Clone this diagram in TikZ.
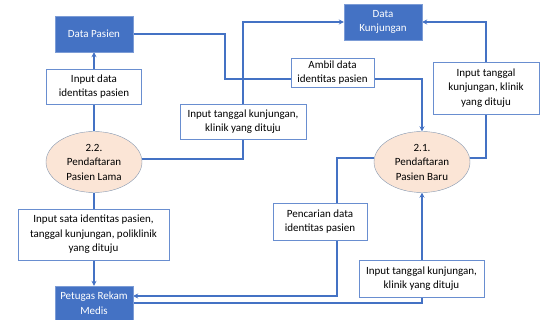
\documentclass[tikz,border=0pt]{standalone}
\usepackage{fontspec}
\setmainfont{Carlito}
\usetikzlibrary{shapes.geometric,arrows.meta,backgrounds}

\definecolor{dfblue}{HTML}{4472C4}
\definecolor{procfill}{HTML}{FBE5D6}
\definecolor{procline}{HTML}{8497B0}

\tikzset{
  store/.style={rectangle, fill=dfblue, draw=dfblue!70, thin, text=white, align=center,
    inner sep=0pt, minimum width=78pt, minimum height=36pt},
  proc/.style={ellipse, fill=procfill, draw=procline, thin, align=center,
    inner sep=0pt, minimum width=96pt, minimum height=61pt},
  flowlbl/.style={rectangle, fill=white, draw=dfblue!80, thin, align=center, inner sep=0pt},
  flow/.style={draw=dfblue, line width=1.3pt, -{Stealth[length=5pt,width=5pt]}}
}

\begin{document}
\begin{tikzpicture}[x=1pt, y=-1pt, font=\fontsize{11}{14.5}\selectfont]
            \useasboundingbox (0,0) rectangle (541,320);
            % stores and processes
            \node[store] (pasien) at (94,34) {Data Pasien};
            \node[store] (kunj) at (383,22) {Data\\Kunjungan};
            \node[store, minimum height=34pt] (petugas) at (94,303) {Petugas Rekam\\Medis};
            \node[proc] (lama) at (94,162) {2.2.\\Pendaftaran\\Pasien Lama};
            \node[proc] (baru) at (422,162) {2.1.\\Pendaftaran\\Pasien Baru};
            % labels
            \node[flowlbl, minimum width=95pt, minimum height=35pt] (inData) at (94,86.5) {Input data\\identitas pasien};
            \node[flowlbl, minimum width=126pt, minimum height=35pt] (inKunjL) at (243,121.5) {Input tanggal kunjungan,\\klinik yang dituju};
            \node[flowlbl, minimum width=83pt, minimum height=29pt] (ambil) at (332.5,72.5) {Ambil data\\identitas pasien};
            \node[flowlbl, minimum width=106pt, minimum height=52pt] (inKunjR) at (486,88) {Input tanggal\\kunjungan, klinik\\yang dituju};
            \node[flowlbl, minimum width=94pt, minimum height=37pt] (cari) at (320,221.5) {Pencarian data\\identitas pasien};
            \node[flowlbl, minimum width=125pt, minimum height=37pt] (inKunjB) at (421.5,278.5) {Input tanggal kunjungan,\\klinik yang dituju};
            \node[flowlbl, minimum width=151pt, minimum height=51pt] (inSata) at (93.5,234.5) {Input sata identitas pasien,\\tanggal kunjungan, poliklinik\\yang dituju};
            % flows
            \begin{scope}[on background layer]
            \draw[flow] (lama.north) -- (pasien.south);
            \draw[flow] ([yshift=3pt]lama.east) -| (inKunjL) |- (kunj.west);
            \draw[flow] (pasien.east) -| (225,79) -| (baru.north);
            \draw[flow] ([yshift=4pt]baru.east) -| (inKunjR) |- (kunj.east);
            \draw[flow] ([yshift=4pt]baru.west) -| (337,296) -- (petugas.east |- 0,296);
            \draw[flow] (petugas.east) -| (baru.south);
            \draw[flow] (lama.south) -- (petugas.north);
            \end{scope}
        \end{tikzpicture}
\end{document}
